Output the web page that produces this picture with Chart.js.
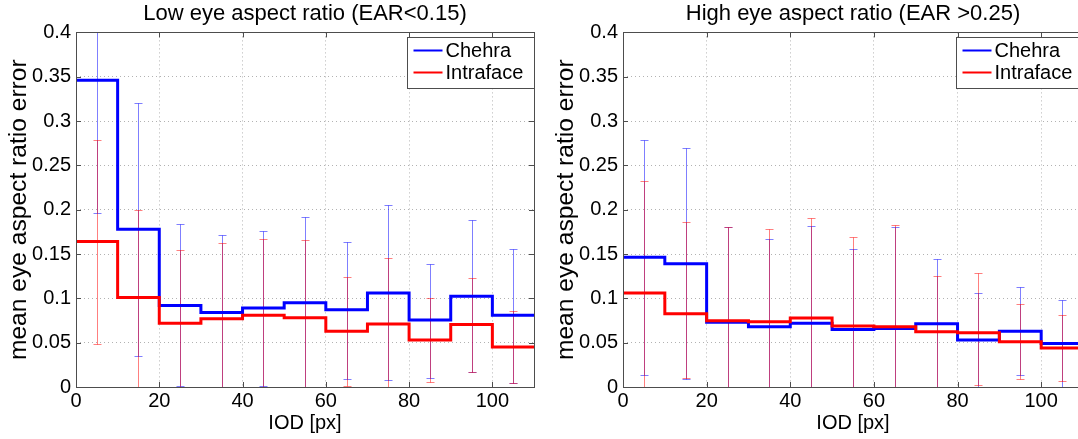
<!DOCTYPE html>
<html>
<head>
<meta charset="utf-8">
<script src="https://cdn.jsdelivr.net/npm/chart.js@4.4.1/dist/chart.umd.min.js"></script>
<style>
  html, body { margin: 0; padding: 0; background: #fff; overflow: hidden; }
  body { width: 1078px; height: 439px; position: relative; }
  canvas { position: absolute; top: 0; }
  #low { left: 0; }
  #high { left: 547px; }
</style>
</head>
<body>
<canvas id="low" width="545" height="439"></canvas>
<canvas id="high" width="547" height="439"></canvas>
<script>
// bin edges (IOD px) and bin centres for the error bars
const iodEdges = [0, 10, 20, 30, 40, 50, 60, 70, 80, 90, 100, 110];
const iodCenters = [5, 15, 25, 35, 45, 55, 65, 75, 85, 95, 105];
const xTickLabels = ['0', '20', '40', '60', '80', '100'];
const yTickLabels = ['0', '0.05', '0.1', '0.15', '0.2', '0.25', '0.3', '0.35', '0.4'];

// low EAR (<0.15)
const lowChehra    = [0.346, 0.178, 0.092, 0.084, 0.089, 0.095, 0.087, 0.106, 0.0755, 0.1025, 0.081];
const lowChehraHi  = [0.43, 0.32, 0.184, 0.171, 0.1765, 0.192, 0.164, 0.205, 0.139, 0.1885, 0.156];
const lowChehraLo  = [0.196, 0.035, 0.001, 0, 0.001, 0, 0.009, 0.008, 0.010, 0.017, 0.0045];
const lowIntra     = [0.164, 0.101, 0.072, 0.077, 0.081, 0.078, 0.063, 0.071, 0.053, 0.0705, 0.045];
const lowIntraHi   = [0.279, 0.2, 0.154, 0.162, 0.1675, 0.166, 0.124, 0.146, 0.1, 0.1225, 0.0853];
const lowIntraLo   = [0.048, 0, 0, 0, 0, 0, 0.001, 0, 0.006, 0.017, 0.0045];

// high EAR (>0.25)
const highChehra   = [0.1465, 0.139, 0.073, 0.068, 0.072, 0.065, 0.066, 0.0713, 0.053, 0.063, 0.049];
const highChehraHi = [0.279, 0.270, 0.18, 0.1675, 0.182, 0.156, 0.181, 0.144, 0.106, 0.1127, 0.0984];
const highChehraLo = [0.0139, 0.009, 0, 0, 0, 0, 0, 0, 0, 0.0139, 0];
const highIntra    = [0.106, 0.0826, 0.0748, 0.0736, 0.0777, 0.0687, 0.068, 0.0623, 0.0612, 0.051, 0.044];
const highIntraHi  = [0.2325, 0.1856, 0.1806, 0.1777, 0.191, 0.169, 0.1825, 0.1247, 0.129, 0.0939, 0.0808];
const highIntraLo  = [0, 0.01, 0, 0, 0, 0, 0, 0, 0.002, 0.0087, 0.007];

const FONT = 'Liberation Sans, Arial, Helvetica, sans-serif';

function stepPoints(vals) {
  const pts = vals.map((v, i) => ({ x: iodEdges[i], y: v }));
  pts.push({ x: iodEdges[iodEdges.length - 1], y: vals[vals.length - 1] });
  return pts;
}

// error bars behind the step lines
const errorBars = {
  id: 'errorBars',
  beforeDatasetsDraw(chart) {
    const { ctx, chartArea: a, scales: { x, y } } = chart;
    ctx.save();
    ctx.beginPath();
    ctx.rect(a.left, a.top, a.right - a.left, a.bottom - a.top);
    ctx.clip();
    chart.data.datasets.forEach(ds => {
      ctx.strokeStyle = ds.errColor;
      ctx.lineWidth = 1;
      ds.errHi.forEach((hi, i) => {
        const px = Math.round(x.getPixelForValue(iodCenters[i])) + 0.5;
        const pHi = Math.round(y.getPixelForValue(hi)) + 0.5;
        const pLo = Math.round(y.getPixelForValue(ds.errLo[i])) + 0.5;
        ctx.beginPath();
        ctx.moveTo(px, pLo); ctx.lineTo(px, pHi);
        ctx.moveTo(px - 4, pHi); ctx.lineTo(px + 4, pHi);
        ctx.moveTo(px - 4, pLo); ctx.lineTo(px + 4, pLo);
        ctx.stroke();
      });
    });
    ctx.restore();
  }
};

// box, inward ticks and legend, matlab style
const frame = {
  id: 'frame',
  afterDraw(chart) {
    const { ctx, chartArea: a, scales: { x, y } } = chart;
    ctx.save();
    ctx.strokeStyle = '#4d4d4d';
    ctx.lineWidth = 1;
    ctx.beginPath();
    x.ticks.forEach(t => {
      const px = Math.round(x.getPixelForValue(t.value)) + 0.5;
      ctx.moveTo(px, a.bottom); ctx.lineTo(px, a.bottom - 5);
      ctx.moveTo(px, a.top); ctx.lineTo(px, a.top + 5);
    });
    y.ticks.forEach(t => {
      const py = Math.round(y.getPixelForValue(t.value)) + 0.5;
      ctx.moveTo(a.left, py); ctx.lineTo(a.left + 5, py);
      ctx.moveTo(a.right, py); ctx.lineTo(a.right - 5, py);
    });
    ctx.stroke();
    ctx.strokeRect(Math.round(a.left) + 0.5, Math.round(a.top) + 0.5,
                   Math.round(a.right - a.left), Math.round(a.bottom - a.top));

    // legend
    const bx = Math.round(a.right) - 127 + 0.5, by = Math.round(a.top) + 5.5;
    ctx.fillStyle = '#fff';
    ctx.fillRect(bx, by, 127, 51);
    ctx.strokeRect(bx, by, 127, 51);
    ctx.font = '20px ' + FONT;
    ctx.textBaseline = 'middle';
    chart.data.datasets.forEach((ds, i) => {
      const ly = by + 13 + i * 22;
      ctx.strokeStyle = ds.borderColor;
      ctx.lineWidth = 2;
      ctx.beginPath();
      ctx.moveTo(bx + 6, ly); ctx.lineTo(bx + 35, ly);
      ctx.stroke();
      ctx.fillStyle = '#000';
      ctx.fillText(ds.label, bx + 38, ly + 1);
    });
    ctx.restore();
  }
};

function makeChart(id, title, chehra, cHi, cLo, intra, iHi, iLo) {
  return new Chart(document.getElementById(id), {
    type: 'line',
    data: {
      datasets: [
        { label: 'Chehra', data: stepPoints(chehra), borderColor: '#0000ff', borderWidth: 3,
          stepped: 'before', pointRadius: 0, order: 1,
          errHi: cHi, errLo: cLo, errColor: 'rgba(0,0,255,0.5)' },
        { label: 'Intraface', data: stepPoints(intra), borderColor: '#ff0000', borderWidth: 3,
          stepped: 'before', pointRadius: 0, order: 0,
          errHi: iHi, errLo: iLo, errColor: 'rgba(255,0,0,0.5)' }
      ]
    },
    options: {
      responsive: false,
      animation: false,
      devicePixelRatio: 1,
      layout: { padding: { right: 11, top: 0, left: 0, bottom: 0 } },
      plugins: {
        legend: { display: false },
        tooltip: { enabled: false },
        title: {
          display: true, text: title, fullSize: false, color: '#000',
          font: { family: FONT, size: 22, weight: 'normal' },
          padding: { top: 1, bottom: 5 }
        }
      },
      scales: {
        x: {
          type: 'linear', min: 0, max: 110,
          afterFit(s) { s.height = 52; },
          ticks: {
            stepSize: 20, includeBounds: false, color: '#000', padding: 2,
            font: { family: FONT, size: 20 },
            callback: (v, i) => xTickLabels[i]
          },
          grid: { color: 'rgba(0,0,0,0.3)', drawTicks: false },
          border: { display: false, dash: [1, 3] },
          title: { display: true, text: 'IOD [px]', color: '#000',
                   font: { family: FONT, size: 20 }, padding: { top: 0 } }
        },
        y: {
          min: 0, max: 0.4,
          afterFit(s) { s.width = 76; },
          ticks: {
            stepSize: 0.05, color: '#000', padding: 5,
            font: { family: FONT, size: 20 },
            callback: (v, i) => yTickLabels[i]
          },
          grid: { color: 'rgba(0,0,0,0.3)', drawTicks: false },
          border: { display: false, dash: [1, 3] },
          title: { display: true, text: 'mean eye aspect ratio error', color: '#000',
                   font: { family: FONT, size: 24.6 }, padding: { top: 4, bottom: 0 } }
        }
      }
    },
    plugins: [errorBars, frame]
  });
}

makeChart('low', 'Low eye aspect ratio (EAR<0.15)',
  lowChehra, lowChehraHi, lowChehraLo, lowIntra, lowIntraHi, lowIntraLo);
makeChart('high', 'High eye aspect ratio (EAR >0.25)',
  highChehra, highChehraHi, highChehraLo, highIntra, highIntraHi, highIntraLo);
</script>
</body>
</html>
